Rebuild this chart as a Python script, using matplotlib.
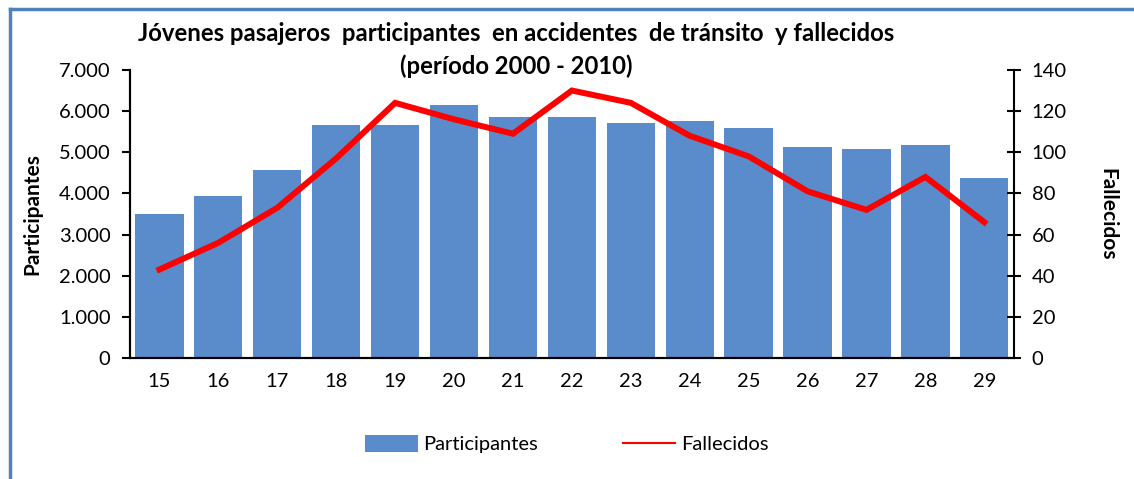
import matplotlib
matplotlib.use('Agg')
import matplotlib.pyplot as plt
from matplotlib.lines import Line2D
from matplotlib.ticker import FuncFormatter

edades = ['15', '16', '17', '18', '19', '20', '21', '22', '23', '24', '25', '26', '27', '28', '29']
participantes = [3510, 3940, 4580, 5650, 5650, 6155, 5850, 5850, 5700, 5750, 5600, 5120, 5070, 5170, 4380]
fallecidos = [43, 56, 73, 97, 124, 116, 109, 130, 124, 108, 98, 81, 72, 88, 66]

plt.rcParams['font.family'] = ['Lato', 'DejaVu Sans']

fig = plt.figure(figsize=(11.34, 4.79), dpi=100)
ax = fig.add_axes([0.1146, 0.2526, 0.7794, 0.6014])
ax2 = ax.twinx()

x = list(range(len(edades)))
ax.bar(x, participantes, width=0.82, color='#5A8BCA', label='Participantes', zorder=2)
ax2.plot(x, fallecidos, color='#FF0000', linewidth=4.3, solid_joinstyle='miter',
         label='Fallecidos', zorder=3)

ax.set_xlim(-0.5, len(edades) - 0.5)
ax.set_ylim(0, 7000)
ax.set_yticks(range(0, 7001, 1000))
ax.yaxis.set_major_formatter(FuncFormatter(lambda v, p: f'{int(v):,}'.replace(',', '.')))
ax2.set_ylim(0, 140)
ax2.set_yticks(range(0, 141, 20))

ax.set_xticks(x)
ax.set_xticklabels(edades)
ax.tick_params(axis='x', length=0, labelsize=14.5, pad=11)
ax.tick_params(axis='y', direction='out', length=6, width=1.5, labelsize=14.5, pad=8)
ax2.tick_params(axis='y', direction='inout', length=10, width=1.5, labelsize=14.5, pad=8)

for a in (ax, ax2):
    a.spines['top'].set_visible(False)
    for s in ('left', 'right', 'bottom'):
        a.spines[s].set_linewidth(1.5)
ax.spines['right'].set_visible(False)

ax.set_ylabel('Participantes', fontsize=15, fontweight='bold', labelpad=12)
ax2.set_ylabel('Fallecidos', fontsize=15, fontweight='bold', rotation=-90, labelpad=36)

fig.text(0.455, 0.93, 'Jóvenes pasajeros  participantes  en accidentes  de tránsito  y fallecidos',
         ha='center', va='center', fontsize=17.2, fontweight='bold')
fig.text(0.455, 0.862, '(período 2000 - 2010)', ha='center', va='center',
         fontsize=17.2, fontweight='bold')

h1, l1 = ax.get_legend_handles_labels()
h2, l2 = ax2.get_legend_handles_labels()
leg_line = Line2D([0], [0], color='#FF0000', linewidth=1.5)
fig.legend(h1 + [leg_line], l1 + l2, loc='center', bbox_to_anchor=(0.5, 0.073), ncol=2,
           frameon=False, fontsize=14.5, handlelength=2.6, handleheight=0.9,
           columnspacing=4.2, handletextpad=0.3)

# marco azul del gráfico (lados izquierdo y superior)
fig.add_artist(Line2D([0.0092, 0.0092], [0.0, 0.981], transform=fig.transFigure,
                      color='#4F81BD', linewidth=2.5))
fig.add_artist(Line2D([0.0092, 1.0], [0.981, 0.981], transform=fig.transFigure,
                      color='#4F81BD', linewidth=2.5))

fig.savefig('out.png', dpi=100)
plt.close(fig)
